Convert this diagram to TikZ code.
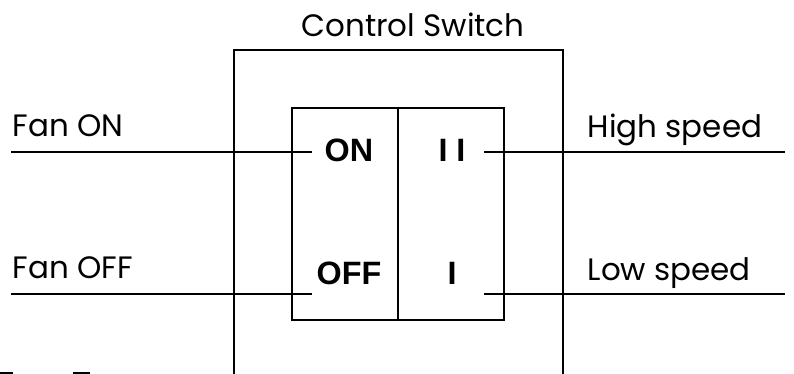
\documentclass[tikz,border=0pt]{standalone}
\usepackage{fontspec}
\setmainfont{Poppins}
\newfontfamily\keyfont{Liberation Sans}
\usetikzlibrary{positioning}

\begin{document}
\begin{tikzpicture}[x=0.025cm, y=-0.025cm, line width=1.1pt,
    lbl/.style={font=\fontsize{22}{24}\selectfont, inner sep=0pt, anchor=base west},
    key/.style={font=\keyfont\bfseries\fontsize{23}{25}\selectfont, inner sep=0pt}]
        \useasboundingbox (0,0) rectangle (794,374);
        % Housing
        \draw (234,374) -- (234,50) -- (563,50) -- (563,374);
        \node[lbl, anchor=base] (title) at (413,37) {Control Switch};
        % Rocker
        \draw (292,108) rectangle (504,320);
        \draw (398,108) -- (398,320);
        \node[key] (on) at (349,150) {ON};   \node[key] (fast) at (452,150) {I I};
        \node[key] (off) at (349,273) {OFF}; \node[key] (slow) at (452,273) {I};
        % Wires
        \coordinate (onA) at (11,152);  \coordinate (onB) at (312,152);
        \coordinate (offA) at (11,294); \coordinate (offB) at (312,294);
        \coordinate (hiA) at (484,152); \coordinate (hiB) at (785,152);
        \coordinate (loA) at (484,294); \coordinate (loB) at (785,294);
        \draw (onA) -- (onB); \draw (offA) -- (offB);
        \draw (hiA) -- (hiB); \draw (loA) -- (loB);
        \node[lbl] (fanon) at (12,136) {Fan ON};
        \node[lbl] (fanoff) at (12,278) {Fan OFF};
        \node[lbl] (high) at (587,137) {High speed};
        \node[lbl] (low) at (587,280) {Low speed};
        % cut-off caption
        \fill (0,372) rectangle (13,374); \fill (73,372) rectangle (90,374);
    \end{tikzpicture}
\end{document}
